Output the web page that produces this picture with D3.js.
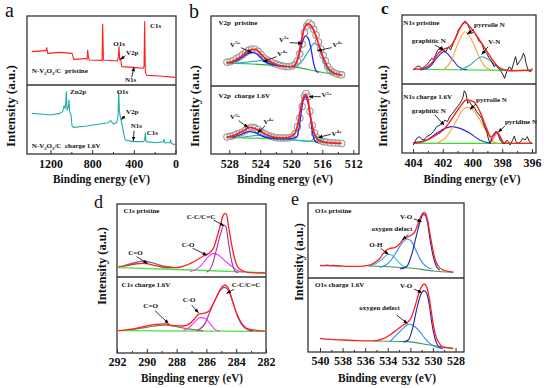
<!DOCTYPE html>
<html>
<head>
<meta charset="utf-8">
<script src="https://cdn.jsdelivr.net/npm/d3@7"></script>
<style>
body { margin: 0; background: #fff; }
text { font-family: "Liberation Serif", "Times New Roman", serif; }
</style>
</head>
<body>
<svg id="fig" width="550" height="388"></svg>
<script>
// ---- panel a : survey spectra (binding energy eV, intensity a.u.)
var aTicks = [1200, 800, 400, 0];
var aMinor = [1000, 600, 200];
var aPristine = [[1380,48.3],[1252,49.8],[1243,49.8],[1236,54.1],[1227,45.9],[1108,47.3],[996,45.9],[990,44.9],[984,41.1],[977,37.2],[859,38.2],[849,37.2],[843,50.7],[836,40.1],[827,36.2],[708,35.7],[705,35.7],[699,88.4],[692,36.2],[565,34.8],[558,34.8],[549,41.1],[542,55.6],[536,36.2],[526,38.6],[517,26.6],[405,25.6],[315,24.2],[302,26.6],[296,91.8],[290,19.3],[277,14.0],[149,13.0],[5,11.1]];
var aCharge = [[1380,58.9],[1268,57.5],[1204,56.5],[1108,58.9],[1083,61.4],[1070,69.6],[1060,66.2],[1054,73.4],[1048,90.3],[1041,63.8],[1028,67.6],[1022,78.3],[1016,61.4],[1003,56.5],[993,40.6],[980,38.6],[853,40.6],[725,43.5],[645,45.4],[622,48.3],[597,43.5],[565,45.4],[552,54.1],[545,90.3],[539,63.8],[533,56.5],[523,49.3],[510,39.6],[494,27.5],[482,20.3],[405,17.9],[309,17.9],[296,20.3],[290,30.9],[283,17.9],[181,16.4],[117,17.9],[110,21.3],[104,16.4],[53,16.4],[46,20.3],[40,15.5],[5,13.0]];

// ---- panel b : V2p
var bTicks = [528, 524, 520, 516, 512];
var bMinor = [526, 522, 518, 514];
var bPrRaw = [[528.3,34],[527.9,34.5],[527.5,36.5],[527.1,39],[526.7,41.5],[526.3,44.5],[525.9,48],[525.5,51],[525.1,53],[524.7,52.5],[524.3,49.5],[523.9,45],[523.5,40],[523.1,37],[522.7,35],[522.3,32.5],[521.9,31],[521.5,29.5],[521.1,28.5],[520.7,28],[520.3,27.5],[519.9,28.5],[519.5,31],[519.2,36],[518.9,46],[518.6,60],[518.3,76],[518.0,86],[517.7,90],[517.4,87.5],[517.1,81],[516.8,73],[516.5,63],[516.2,53],[515.9,44],[515.6,36],[515.3,28],[515.0,23],[514.6,19.5],[514.2,17.5],[513.8,16.5],[513.5,16]];
var bPrFit = [[528.34,33.3],[527.69,34.3],[526.83,39.5],[525.97,46.7],[525.33,51.4],[524.90,52.4],[524.47,51.4],[523.82,44.3],[523.39,39.5],[522.75,34.8],[522.10,31.4],[520.81,27.6],[519.95,27.6],[519.52,30.0],[519.09,41.9],[518.67,65.7],[518.32,82.4],[518.02,88.1],[517.72,88.6],[517.38,84.8],[516.94,75.2],[516.51,61.0],[516.08,46.7],[515.65,34.8],[515.22,25.2],[514.58,19.0],[513.93,16.7],[513.50,15.7]];
var bPrV5 = [[527.69,33.5],[527.26,35.0],[526.19,41.9],[525.54,46.7],[524.90,47.6],[524.25,44.3],[523.61,37.1],[522.96,32.4],[521.24,28.6],[519.74,27.8],[519.31,34.8],[518.88,49.0],[518.45,66.7],[518.15,71.4],[517.81,68.1],[517.46,53.8],[517.16,34.8],[516.86,22.9],[516.51,19.0]];
var bPrV4 = [[527.26,32.4],[525.54,34.3],[523.82,36.2],[522.53,32.4],[521.24,28.6],[519.52,27.6],[518.67,34.8],[517.81,49.0],[517.03,61.0],[516.51,57.1],[516.08,44.3],[515.65,30.0],[515.01,20.5],[514.36,18.1]];
var bPrBg = [[528.34,32.4],[525.11,31.4],[521.67,29.0],[519.09,26.2],[516.51,20.5],[514.79,17.1],[513.50,15.2]];
var bChRaw = [[528.3,25],[527.9,26],[527.5,27],[527.1,29],[526.7,30.5],[526.3,32.5],[525.9,35],[525.5,38],[525.1,39.5],[524.7,38.5],[524.3,36],[523.9,33],[523.5,30],[523.1,28],[522.7,26],[522.3,25],[521.9,24],[521.5,23.5],[521.1,23.5],[520.7,23.5],[520.3,24],[519.9,25.5],[519.5,30],[519.2,40],[518.9,53],[518.6,70],[518.3,85],[518.1,89],[517.9,84],[517.6,63],[517.3,42],[517.0,31],[516.7,24],[516.3,20],[515.9,18.5],[515.5,17.5],[515.0,16.5],[514.5,16],[514.0,16],[513.5,15.5]];
var bChFit = [[528.34,24.5],[527.26,27.9],[526.19,33.8],[525.33,39.2],[524.47,36.3],[523.39,29.4],[522.10,24.5],[520.81,23.5],[519.95,26.5],[519.52,30.4],[519.09,47.5],[518.67,74.5],[518.32,85.8],[518.15,86.8],[517.89,81.9],[517.59,59.8],[517.16,35.3],[516.73,23.0],[516.08,18.1],[515.22,16.7],[513.50,15.7]];
var bChV5 = [[527.69,24.5],[526.62,27.9],[525.54,32.8],[524.68,31.4],[523.61,25.5],[522.53,23.0],[520.81,22.1],[519.31,24.5],[518.88,47.0],[518.58,72.1],[518.23,84.3],[517.93,79.4],[517.59,57.4],[517.25,30.4],[516.86,18.1],[516.51,16.7]];
var bChV4 = [[526.40,24.5],[525.11,26.5],[524.04,27.9],[522.96,25.5],[521.67,23.0],[519.52,20.6],[517.59,18.5],[517.16,21.6],[516.73,25.5],[516.30,23.0],[515.87,18.1],[515.44,15.7]];
var bChBg = [[528.34,24.5],[522.96,22.5],[519.52,20.6],[516.51,17.6],[513.50,15.7]];

// ---- panel c : N1s
var cTicks = [404, 402, 400, 398, 396];
var cMinor = [403, 401, 399, 397];
var cPrRaw = [[403.98,20.3],[403.75,25.1],[403.57,26.1],[403.42,22.7],[403.24,25.1],[403.08,27.5],[402.90,32.4],[402.75,37.2],[402.63,35.7],[402.48,42.0],[402.34,49.3],[402.18,51.7],[402.07,54.1],[401.96,49.3],[401.78,46.9],[401.62,54.1],[401.47,49.3],[401.29,58.9],[401.11,68.6],[400.95,78.3],[400.80,83.1],[400.62,88.9],[400.48,91.3],[400.35,87.9],[400.21,80.7],[400.06,73.4],[399.90,75.8],[399.72,68.6],[399.54,61.4],[399.38,58.9],[399.23,49.3],[399.05,44.4],[398.87,37.2],[398.71,32.4],[398.55,25.1],[398.42,27.5],[398.26,22.7],[398.11,19.3],[397.97,14.5],[397.84,8.2],[397.70,17.9],[397.52,25.1],[397.37,20.3],[397.21,32.4],[397.10,39.6],[396.99,27.5],[396.85,32.4],[396.69,37.2],[396.58,44.4],[396.49,40.6],[396.40,30.0],[396.25,19.3],[396.09,17.9],[395.98,22.7]];
var cPrFit = [[403.98,21.3],[403.31,22.7],[402.75,30.0],[402.30,44.4],[401.96,50.2],[401.51,54.1],[401.18,64.7],[400.84,80.7],[400.50,88.9],[400.17,83.1],[399.83,73.4],[399.38,58.9],[398.94,44.4],[398.49,30.0],[398.04,21.3],[397.48,19.3],[395.98,20.3]];
var cPrGra = [[403.53,20.3],[402.86,25.1],[402.41,37.2],[401.92,46.9],[401.40,37.2],[400.95,25.1],[400.39,20.3]];
var cPrPyr = [[401.96,20.3],[401.40,34.8],[401.02,56.5],[400.50,75.8],[400.06,63.8],[399.61,42.0],[399.16,25.1],[398.71,20.3]];
var cPrVN = [[400.84,20.3],[400.17,27.5],[399.72,35.7],[399.38,39.6],[398.94,35.7],[398.49,27.5],[397.93,21.3],[397.48,19.3]];
var cPrBg = [[403.98,21.3],[395.98,19.3]];
var cChRaw = [[403.98,11.6],[403.75,21.3],[403.57,23.7],[403.42,19.8],[403.26,18.8],[403.08,23.7],[402.86,26.1],[402.63,30.9],[402.41,38.2],[402.18,40.6],[402.01,43.0],[401.85,47.8],[401.69,45.4],[401.51,53.6],[401.33,57.5],[401.18,62.3],[401.02,67.1],[400.84,72.0],[400.66,79.2],[400.55,90.3],[400.44,86.5],[400.32,72.0],[400.21,74.4],[400.06,69.6],[399.90,67.1],[399.72,59.9],[399.54,55.1],[399.38,50.2],[399.23,40.6],[399.05,30.9],[398.91,18.8],[398.82,14.0],[398.71,21.3],[398.55,28.5],[398.42,30.9],[398.26,26.1],[398.15,18.8],[397.97,14.0],[397.82,14.0],[397.70,18.8],[397.59,16.4],[397.48,11.6],[397.30,18.8],[397.19,24.6],[397.08,16.4],[396.92,14.0],[396.76,16.4],[396.63,21.3],[396.47,18.8],[396.31,23.7],[396.18,16.4],[395.98,14.0]];
var cChFit = [[403.98,14.0],[403.31,16.4],[402.63,23.7],[401.96,33.3],[401.29,52.7],[400.84,67.1],[400.39,76.8],[399.94,74.4],[399.50,59.9],[399.05,35.7],[398.78,23.7],[398.55,26.1],[398.38,30.9],[398.15,23.7],[397.93,15.0],[397.25,14.0],[395.98,14.0]];
var cChGra = [[403.98,15.0],[403.08,18.8],[402.41,28.5],[401.85,35.7],[401.40,38.2],[400.84,35.7],[400.17,28.5],[399.50,18.8],[398.82,14.0]];
var cChPyr = [[402.41,14.0],[401.74,23.7],[401.18,43.0],[400.73,59.9],[400.39,66.2],[399.94,62.3],[399.50,47.8],[399.05,30.9],[398.60,16.4],[398.26,14.0]];
var cChPyd = [[398.82,14.0],[398.60,21.3],[398.33,29.5],[398.11,22.7],[397.88,14.0]];
var cChBg = [[403.98,14.0],[395.98,14.0]];

// ---- panel d : C1s
var dTicks = [292, 290, 288, 286, 284, 282];
var dMinor = [291, 289, 287, 285, 283];
var dPrFit = [[291.91,14.2],[291.35,15.5],[290.79,17.8],[290.23,18.7],[289.56,16.4],[288.67,12.8],[288.00,12.8],[287.32,16.4],[286.65,23.3],[286.21,28.8],[285.87,32.0],[285.53,39.3],[285.31,53.0],[285.09,68.9],[284.91,82.6],[284.75,87.2],[284.64,84.9],[284.53,71.2],[284.30,43.8],[284.08,23.3],[283.86,12.8],[283.52,8.2],[283.07,5.9],[282.07,5.5]];
var dPrCdO = [[291.57,15.1],[290.90,19.2],[290.23,21.5],[289.67,19.6],[289.00,15.5],[288.22,13.2]];
var dPrCO = [[287.10,7.3],[286.43,14.2],[285.98,25.6],[285.53,32.4],[285.20,30.1],[284.86,24.2],[284.42,16.4],[283.97,9.6],[283.52,6.4]];
var dPrCC = [[285.98,6.4],[285.65,14.2],[285.36,34.7],[285.04,59.8],[284.82,71.2],[284.68,68.9],[284.53,48.4],[284.30,21.0],[284.08,8.2],[283.86,5.5]];
var dPrBg = [[291.91,12.8],[287.10,9.6],[282.07,5.8]];
var dChFit = [[291.91,29.4],[291.13,31.1],[290.23,34.6],[289.34,37.7],[288.78,38.2],[288.22,36.0],[287.55,35.5],[287.10,39.0],[286.77,45.6],[286.54,50.9],[286.21,52.2],[285.87,54.4],[285.53,65.4],[285.20,78.5],[284.98,86.4],[284.75,89.5],[284.53,85.1],[284.30,71.9],[283.97,52.2],[283.63,39.0],[283.30,32.5],[282.85,30.3],[282.07,28.9]];
var dChCdO = [[291.13,30.3],[290.01,33.8],[288.78,36.8],[287.77,33.8],[286.88,30.7],[286.21,29.4]];
var dChCO = [[287.55,29.4],[287.10,34.6],[286.77,41.2],[286.43,46.5],[286.09,45.6],[285.76,39.0],[285.42,31.1],[285.09,28.9]];
var dChCC = [[286.65,29.4],[286.09,39.0],[285.76,54.4],[285.42,69.7],[285.09,82.0],[284.80,86.4],[284.53,82.9],[284.24,67.5],[283.86,45.6],[283.52,34.6],[283.19,30.3],[282.85,28.9]];
var dChBg = [[291.91,29.4],[282.07,28.5]];

// ---- panel e : O1s
var eTicks = [540, 538, 536, 534, 532, 530, 528];
var eMinor = [539, 537, 535, 533, 531, 529];
var ePrRaw = [[540.0,17.0],[539.7,16.6],[539.4,17.3],[539.1,16.5],[538.8,16.9],[538.5,16.3],[538.2,16.7]];
var ePrFit = [[540.0,16.4],[539.12,16.4],[538.23,16.0],[537.35,15.6],[536.46,15.6],[535.87,16.4],[535.43,18.2],[535.04,21.8],[534.69,26.2],[534.40,32.9],[534.10,37.3],[533.81,39.6],[533.36,40.4],[532.98,44.9],[532.63,51.6],[532.18,55.1],[531.89,57.3],[531.59,61.8],[531.36,70.7],[531.15,79.6],[530.91,86.2],[530.77,87.6],[530.62,84.9],[530.47,77.3],[530.27,59.6],[530.03,39.6],[529.79,24.0],[529.53,16.0],[529.09,10.7],[528.50,8.4],[528.20,7.6]];
var ePrOH = [[535.58,15.1],[534.99,19.6],[534.40,26.2],[533.95,31.6],[533.66,30.7],[533.22,24.0],[532.77,17.3],[532.33,14.2]];
var ePrDef = [[534.69,14.2],[533.81,21.8],[533.22,35.1],[532.63,48.4],[532.27,52.0],[531.89,48.4],[531.45,35.1],[531.00,21.8],[530.56,15.1],[530.12,12.0]];
var ePrVO = [[532.92,12.0],[532.33,15.1],[531.89,30.7],[531.45,57.3],[531.09,77.3],[530.86,84.9],[530.68,84.0],[530.47,72.9],[530.27,52.9],[529.97,28.4],[529.68,15.1],[529.38,10.7]];
var ePrBg = [[535.72,16.0],[533.81,15.1],[531.74,12.9],[529.97,9.3],[528.20,7.6]];
var eChFit = [[540.0,18.5],[539.12,17.1],[537.94,16.2],[536.76,15.3],[535.58,14.9],[534.99,15.3],[534.40,18.0],[533.81,23.0],[533.22,29.7],[532.63,36.5],[532.18,41.0],[531.89,47.7],[531.59,61.3],[531.30,77.0],[531.00,88.3],[530.77,91.9],[530.56,88.3],[530.32,72.5],[530.12,52.3],[529.91,32.0],[529.68,18.5],[529.38,10.8],[529.09,6.3],[528.20,5.0]];
var eChDef = [[533.81,14.0],[533.22,23.0],[532.63,32.0],[532.09,37.8],[531.59,34.2],[531.15,27.5],[530.71,18.5],[530.27,11.7],[529.68,6.3],[529.09,4.5]];
var eChVO = [[532.63,13.5],[532.18,16.2],[531.80,32.0],[531.45,56.8],[531.09,77.0],[530.80,82.9],[530.56,79.3],[530.32,63.5],[530.09,38.7],[529.82,18.5],[529.53,8.1],[529.23,5.0]];
var eChBg = [[535.28,14.9],[532.33,14.0],[530.27,9.5],[528.20,5.0]];

var RED = "#ff1f1f";

var panels = [
  { id: "a", frame: {l: 27, t: 16, r: 176, m: 85, b: 154}, cal: [1200, 0, 50.5, 175.5],
    ticks: aTicks, minor: aMinor, xlab: "Binding energy (eV)", xlab_x: 101.5, xlab_y: 183, xlab_w: 97,
    ylab_x: 14.5, ylab_y: 106, ylab_w: 82, ylab_fs: 13, letter: ["a", 5, 17, 20, "normal"],
    halves: [
      { lines: [[aPristine, RED, 1.1, 1]],
        notes: [["C1s", 244.6, 82.1], ["O1s", 596.6, 56.5], ["V2p", 475, 43.5], ["N1s", 485, 4.8], ["N-V_{2}O_{3}/C\u00a0\u00a0pristine", 1380, 16.9]],
        arrows: [[481, 42.5, 526, 37.2], [421, 11.1, 398, 25.6]] },
      { lines: [[aCharge, "#1eada8", 1.1, 1]],
        notes: [["Zn2p", 1012, 87.0], ["O1s", 565, 87.0], ["V2p", 475, 57.5], ["N1s", 430, 37.2], ["C1s", 277, 27.5], ["N-V_{2}O_{3}/C\u00a0\u00a0charge 1.6V", 1380, 8.2]],
        arrows: [[485, 55.1, 520, 50.2], [398, 33.8, 405, 19.3]] }
    ] },
  { id: "b", frame: {l: 211, t: 16, r: 359, m: 86, b: 154}, cal: [528, 512, 229.3, 353.3],
    ticks: bTicks, minor: bMinor, xlab: "Binding energy (eV)", xlab_x: 285, xlab_y: 183, xlab_w: 96,
    ylab_x: 198.5, ylab_y: 106, ylab_w: 82, ylab_fs: 13, letter: ["b", 189, 18, 20, "normal"],
    halves: [
      { dots: bPrRaw,
        lines: [[bPrBg, "#2fb52f", 1.1], [bPrV4, "#20b4c8", 1.2], [bPrV5, "#1c1cff", 1.2], [bPrFit, RED, 1.8]],
        notes: [["V2p\u00a0\u00a0pristine", 529.4, 87.1], ["V^{5+}", 527.9, 56.2], ["V^{4+}", 521.8, 42.9], ["V^{5+}", 521.6, 63.3], ["V^{4+}", 514.7, 56.2]],
        arrows: [[526.5, 54.8, 525.1, 47.6], [521.9, 41.9, 523.6, 34.8], [520.2, 61.9, 518.6, 61.0], [514.8, 54.8, 516.6, 50.5]] },
      { dots: bChRaw,
        lines: [[bChBg, "#3ccf3c", 1.1], [bChV4, "#20b4c8", 1.2], [bChV5, "#1c1cff", 1.2], [bChFit, RED, 1.8]],
        notes: [["V2p\u00a0\u00a0charge 1.6V", 529.4, 81.9], ["V^{5+}", 527.9, 51.0], ["V^{4+}", 523.6, 44.1], ["V^{5+}", 516.1, 83.3], ["V^{4+}", 514.8, 26.5]],
        arrows: [[526.8, 49.0, 525.6, 39.2], [523.4, 41.2, 524.3, 31.4], [516.2, 84.3, 517.7, 84.3], [514.9, 28.9, 516.5, 24.5]] }
    ] },
  { id: "c", frame: {l: 402, t: 15, r: 536, m: 84, b: 153}, cal: [404, 396, 413, 532],
    ticks: cTicks, minor: cMinor, xlab: "Binding energy (eV)", xlab_x: 472, xlab_y: 183, xlab_w: 97,
    ylab_x: 386.5, ylab_y: 106, ylab_w: 82, ylab_fs: 13, letter: ["c", 381, 14, 17, "bold"],
    halves: [
      { lines: [[cPrBg, "#33dd33", 1.1], [cPrGra, "#2a2ae0", 1.1], [cPrPyr, "#ffa030", 1.1], [cPrVN, "#35a8ad", 1.1], [cPrRaw, "#111", 0.9, 1], [cPrFit, RED, 1.4]],
        notes: [["N1s pristine", 404.65, 85.5], ["graphitic N", 404.09, 58.9], ["pyrrolle N", 399.9, 83.1], ["V-N", 398.94, 57.5]],
        arrows: [[402.52, 56.5, 401.96, 49.3], [399.9, 79.2, 400.35, 72.5], [398.94, 54.1, 399.38, 43.0]] },
      { lines: [[cChBg, "#33dd33", 1.1], [cChGra, "#2a2ae0", 1.1], [cChPyr, "#ffa030", 1.1], [cChPyd, "#ff4aa5", 1.1], [cChRaw, "#111", 0.9, 1], [cChFit, RED, 1.4]],
        notes: [["N1s charge 1.6V", 404.65, 78.3], ["graphitic N", 404.09, 57.5], ["pyrrolle N", 399.76, 74.4], ["pyridine N", 397.82, 42.0]],
        arrows: [[402.52, 55.1, 401.92, 40.6], [399.76, 71.0, 400.17, 63.3], [397.82, 39.1, 398.26, 30.4]] }
    ] },
  { id: "d", frame: {l: 117, t: 204, r: 266, m: 277, b: 353}, cal: [292, 282, 117, 266],
    ticks: dTicks, minor: dMinor, xlab: "Bingding energy (eV)", xlab_x: 192, xlab_y: 382, xlab_w: 102,
    ylab_x: 105.5, ylab_y: 266, ylab_w: 78, ylab_fs: 12.5, letter: ["d", 94, 208, 18, "normal"],
    halves: [
      { lines: [[dPrBg, "#3ee83e", 1.3], [dPrCdO, "#777", 1.4], [dPrCO, "#ff33ff", 1.1], [dPrCC, "#a22ab4", 1.1], [dPrFit, RED, 1.3]],
        notes: [["C1s pristine", 291.57, 88.1], ["C-C/C=C", 287.32, 79.5], ["C-O", 287.66, 41.6], ["C=O", 291.24, 30.1]],
        arrows: [[285.53, 78.1, 284.82, 70.3], [286.92, 39.3, 285.98, 30.1], [290.68, 27.9, 289.96, 18.7]] },
      { lines: [[dChBg, "#3ee83e", 1.3], [dChCdO, "#8a7a55", 1.2], [dChCO, "#ff33ff", 1.1], [dChCC, "#a22ab4", 1.1], [dChFit, RED, 1.3]],
        notes: [["C1s charge 1.6V", 291.69, 86.4], ["C-C/C=C", 284.3, 87.3], ["C-O", 287.59, 66.7], ["C=O", 290.23, 59.6]],
        arrows: [[284.15, 83.8, 284.64, 78.5], [286.99, 63.2, 286.54, 53.1], [289.45, 55.7, 288.55, 39.0]] }
    ] },
  { id: "e", frame: {l: 308, t: 203, r: 464, m: 278, b: 352}, cal: [540, 528, 320, 455.5],
    ticks: eTicks, minor: eMinor, xlab: "Binding evergy (eV)", xlab_x: 387, xlab_y: 382, xlab_w: 98,
    ylab_x: 303, ylab_y: 262, ylab_w: 78, ylab_fs: 12.5, letter: ["e", 291, 205, 18, "normal"],
    halves: [
      { lines: [[ePrRaw, "#666", 1.2, 1], [ePrBg, "#3c9c48", 1.1], [ePrOH, "#33c8dc", 1.1], [ePrDef, "#2f8cf0", 1.1], [ePrVO, "#23239e", 1.1], [ePrFit, RED, 1.3]],
        notes: [["O1s pristine", 540.44, 87.1], ["V-O", 532.92, 78.2], ["oxygen defect", 535.43, 62.7], ["O-H", 535.63, 41.8]],
        arrows: [[531.68, 78.7, 531.0, 75.1], [532.18, 58.2, 532.68, 51.1], [534.63, 39.6, 533.95, 31.6]] },
      { lines: [[eChBg, "#3c9c48", 1.1], [eChDef, "#2f8cf0", 1.1], [eChVO, "#23239e", 1.1], [eChFit, RED, 1.3]],
        notes: [["O1s charge 1.6V", 540.44, 88.3], ["V-O", 532.92, 86.0], ["oxygen defect", 536.52, 56.8]],
        arrows: [[531.68, 85.1, 531.0, 80.2], [533.22, 50.0, 532.27, 38.7]] }
    ] }
];

var svg = d3.select("#fig");
var defs = svg.append("defs");
defs.append("marker").attr("id", "ah").attr("viewBox", "0 0 10 10")
  .attr("refX", 9).attr("refY", 5).attr("markerWidth", 4.5).attr("markerHeight", 4.5)
  .attr("markerUnits", "userSpaceOnUse").attr("orient", "auto")
  .append("path").attr("d", "M0,1L10,5L0,9z").attr("fill", "#000");

// text with _{sub} and ^{sup} parts
function rich(t, str, fs) {
  var shift = 0;
  str.split(/([_^]\{[^}]*\})/).forEach(function(p) {
    if (!p) return;
    if (p[0] === "_" || p[0] === "^") {
      var s = p[0] === "_" ? fs * 0.28 : -fs * 0.38;
      t.append("tspan").attr("font-size", fs * 0.68).attr("dy", s - shift).text(p.slice(2, -1));
      shift = s;
    } else {
      t.append("tspan").attr("dy", -shift).text(p);
      shift = 0;
    }
  });
}

panels.forEach(function(p) {
  var f = p.frame;
  var x = d3.scaleLinear().domain([p.cal[0], p.cal[1]]).range([p.cal[2], p.cal[3]]);
  var g = svg.append("g");

  p.halves.forEach(function(h, hi) {
    var yt = hi ? f.m : f.t, yb = hi ? f.b : f.m;
    var y = d3.scaleLinear().domain([0, 100]).range([yb, yt]);
    var cid = "clip" + p.id + hi;
    defs.append("clipPath").attr("id", cid).append("rect")
      .attr("x", f.l).attr("y", yt).attr("width", f.r - f.l).attr("height", yb - yt);
    var hg = g.append("g").attr("clip-path", "url(#" + cid + ")");

    if (h.dots) {
      hg.selectAll(".raw").data(h.dots).enter().append("circle")
        .attr("cx", function(d) { return x(d[0]); })
        .attr("cy", function(d) { return y(d[1]); })
        .attr("r", 3.2).attr("fill", "#fff").attr("fill-opacity", 0.5)
        .attr("stroke", "#9a9a9a").attr("stroke-width", 1.1);
    }
    h.lines.forEach(function(L) {
      var line = d3.line()
        .x(function(d) { return x(d[0]); })
        .y(function(d) { return y(d[1]); })
        .curve(L[3] ? d3.curveLinear : d3.curveMonotoneX);
      hg.append("path").datum(L[0]).attr("d", line)
        .attr("fill", "none").attr("stroke", L[1]).attr("stroke-width", L[2])
        .attr("stroke-linejoin", "round");
    });
    h.arrows.forEach(function(a) {
      g.append("line").attr("x1", x(a[0])).attr("y1", y(a[1])).attr("x2", x(a[2])).attr("y2", y(a[3]))
        .attr("stroke", "#000").attr("stroke-width", 0.8).attr("marker-end", "url(#ah)");
    });
    h.notes.forEach(function(n) {
      var t = g.append("text").attr("x", x(n[1])).attr("y", y(n[2]))
        .attr("font-size", 7).attr("font-weight", "bold").attr("fill", "#111");
      rich(t, n[0], 7);
    });
  });

  // frame and divider
  g.append("rect").attr("x", f.l).attr("y", f.t).attr("width", f.r - f.l).attr("height", f.b - f.t)
    .attr("fill", "none").attr("stroke", "#333").attr("stroke-width", 1.3);
  g.append("line").attr("x1", f.l).attr("x2", f.r).attr("y1", f.m).attr("y2", f.m)
    .attr("stroke", "#333").attr("stroke-width", 1.3);

  // bottom axis, ticks pointing inside
  var ax = g.append("g").attr("transform", "translate(0," + f.b + ")")
    .call(d3.axisBottom(x).tickValues(p.ticks).tickSize(-4).tickPadding(p.id > "c" ? 4 : 5).tickFormat(d3.format("d")));
  ax.select(".domain").remove();
  ax.selectAll("line").attr("stroke", "#333").attr("stroke-width", 1);
  ax.selectAll("text").attr("font-family", "Liberation Serif, serif")
    .attr("font-size", 12).attr("font-weight", "bold").attr("fill", "#111");
  var mx = g.append("g").attr("transform", "translate(0," + f.b + ")")
    .call(d3.axisBottom(x).tickValues(p.minor).tickSize(-2).tickFormat(""));
  mx.select(".domain").remove();
  mx.selectAll("line").attr("stroke", "#333").attr("stroke-width", 1);

  g.append("text").attr("x", p.xlab_x).attr("y", p.xlab_y).attr("text-anchor", "middle")
    .attr("font-size", 13).attr("font-weight", "bold").attr("fill", "#111")
    .attr("textLength", p.xlab_w).attr("lengthAdjust", "spacingAndGlyphs").text(p.xlab);
  g.append("text").attr("transform", "translate(" + p.ylab_x + "," + p.ylab_y + ") rotate(-90)")
    .attr("text-anchor", "middle").attr("font-size", p.ylab_fs).attr("font-weight", "bold").attr("fill", "#111")
    .attr("textLength", p.ylab_w).attr("lengthAdjust", "spacingAndGlyphs").text("Intensity (a.u.)");
  g.append("text").attr("x", p.letter[1]).attr("y", p.letter[2])
    .attr("font-size", p.letter[3]).attr("font-weight", p.letter[4]).attr("fill", "#111").text(p.letter[0]);
});
</script>
</body>
</html>
